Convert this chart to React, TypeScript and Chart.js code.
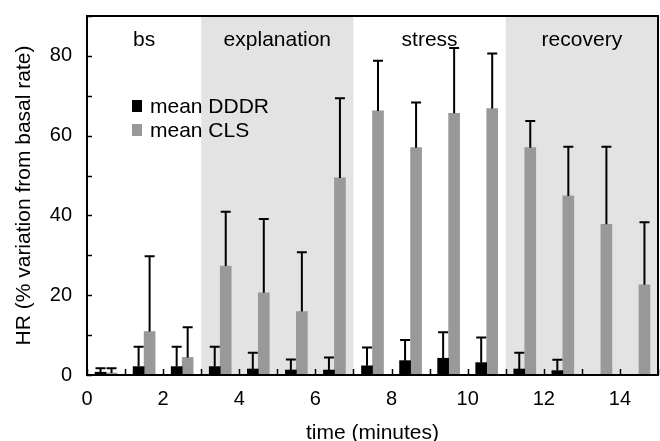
import React, { useEffect, useRef } from "react";
import { Chart, registerables } from "chart.js";

Chart.register(...registerables);

// ---- data ----
const minuteCenters = [0.5, 1.5, 2.5, 3.5, 4.5, 5.5, 6.5, 7.5, 8.5, 9.5, 10.5, 11.5, 12.5, 13.5, 14.5];
const dddrMean = [0.7, 2.1, 2.1, 2.1, 1.5, 1.25, 1.25, 2.3, 3.6, 4.2, 3.1, 1.5, 1.1, 0, 0];
const dddrSD = [1.0, 5.0, 5.0, 5.0, 4.1, 2.65, 3.15, 4.6, 5.2, 6.5, 6.3, 4.1, 2.7, 0, 0];
const clsMean = [0.5, 10.9, 4.4, 27.3, 20.6, 15.9, 49.4, 66.2, 57.0, 65.6, 66.8, 57.0, 44.9, 37.8, 22.6];
const clsSD = [1.2, 18.9, 7.6, 13.6, 18.5, 14.9, 20.0, 12.6, 11.3, 16.4, 13.8, 6.7, 12.3, 19.4, 15.7];

const phaseNames = ["bs", "explanation", "stress", "recovery"];
const phaseStart = [0, 3, 7, 11];
const phaseEnd = [3, 7, 11, 15];
const phaseShaded = [false, true, false, true];
const phaseLabelValue = 84;

const xTickStep = 1;
const yTickStep = 10;

const FONT = "'Liberation Sans', Arial, sans-serif";
const BLACK = "#000000";
const GRAY = "#999999";
const SHADE = "#e3e3e3";

const decorPlugin = {
  id: "decor",
  beforeDatasetsDraw(chart: any) {
    const { ctx, chartArea, scales } = chart;
    const xs = scales.x;
    ctx.save();
    ctx.fillStyle = SHADE;
    for (let i = 0; i < phaseNames.length; i++) {
      if (!phaseShaded[i]) continue;
      const x0 = xs.getPixelForValue(phaseStart[i]);
      const x1 = xs.getPixelForValue(phaseEnd[i]);
      ctx.fillRect(x0, chartArea.top, x1 - x0, chartArea.bottom - chartArea.top);
    }
    ctx.restore();
  },
  afterDatasetsDraw(chart: any) {
    const { ctx, chartArea, scales } = chart;
    const xs = scales.x;
    const ys = scales.y;
    ctx.save();
    // error bars
    const sds = [dddrSD, clsSD];
    const means = [dddrMean, clsMean];
    ctx.strokeStyle = BLACK;
    ctx.lineWidth = 2;
    for (let d = 0; d < 2; d++) {
      const meta = chart.getDatasetMeta(d);
      meta.data.forEach((bar: any, i: number) => {
        const sd = sds[d][i];
        if (!sd) return;
        const yb = ys.getPixelForValue(means[d][i]);
        const yt = ys.getPixelForValue(means[d][i] + sd);
        ctx.beginPath();
        ctx.moveTo(bar.x, yb);
        ctx.lineTo(bar.x, yt);
        ctx.moveTo(bar.x - 5, yt);
        ctx.lineTo(bar.x + 5, yt);
        ctx.stroke();
      });
    }
    // inward ticks
    ctx.lineWidth = 1.5;
    ctx.beginPath();
    xs.ticks.forEach((t: any) => {
      const px = Math.round(xs.getPixelForValue(t.value)) + 0.5;
      ctx.moveTo(px, chartArea.bottom);
      ctx.lineTo(px, chartArea.bottom - 6);
    });
    ys.ticks.forEach((t: any) => {
      const py = Math.round(ys.getPixelForValue(t.value)) + 0.5;
      ctx.moveTo(chartArea.left, py);
      ctx.lineTo(chartArea.left + 5, py);
    });
    ctx.stroke();
    // frame
    ctx.lineWidth = 2;
    ctx.strokeRect(chartArea.left, chartArea.top, chartArea.right - chartArea.left, chartArea.bottom - chartArea.top);
    // phase labels
    ctx.fillStyle = BLACK;
    ctx.font = `21px ${FONT}`;
    ctx.textAlign = "center";
    ctx.textBaseline = "middle";
    for (let i = 0; i < phaseNames.length; i++) {
      const cx = xs.getPixelForValue((phaseStart[i] + phaseEnd[i]) / 2);
      ctx.fillText(phaseNames[i], cx, ys.getPixelForValue(phaseLabelValue));
    }
    // legend
    ctx.textAlign = "left";
    const lx = chartArea.left + 45;
    let ly = chartArea.top + 90;
    chart.data.datasets.forEach((ds: any) => {
      ctx.fillStyle = ds.backgroundColor;
      ctx.fillRect(lx, ly - 6, 10, 12);
      ctx.fillStyle = BLACK;
      ctx.fillText(ds.label, lx + 18, ly + 1);
      ly += 24;
    });
    ctx.restore();
  },
};

export default function App() {
  const ref = useRef<HTMLCanvasElement | null>(null);
  useEffect(() => {
    if (!ref.current) return;
    const chart = new Chart(ref.current, {
      type: "bar",
      data: {
        datasets: [
          {
            label: "mean DDDR",
            data: minuteCenters.map((m, i) => ({ x: m, y: dddrMean[i] })),
            backgroundColor: BLACK,
            barThickness: 11,
          },
          {
            label: "mean CLS",
            data: minuteCenters.map((m, i) => ({ x: m, y: clsMean[i] })),
            backgroundColor: GRAY,
            barThickness: 11,
          },
        ],
      },
      options: {
        animation: false,
        responsive: false,
        layout: { padding: { top: 16, right: 2, left: 0, bottom: 0 } },
        plugins: { legend: { display: false }, tooltip: { enabled: false } },
        scales: {
          x: {
            type: "linear",
            min: 0,
            max: 15,
            offset: false,
            grid: { display: false, drawTicks: false, offset: false },
            border: { display: false },
            ticks: {
              stepSize: xTickStep,
              autoSkip: false,
              maxRotation: 0,
              padding: 12,
              color: BLACK,
              font: { size: 20, family: FONT },
              callback: (v: any) => (Number(v) % 2 === 0 ? String(v) : ""),
            },
            title: {
              display: true,
              text: "time (minutes)",
              color: BLACK,
              font: { size: 21, family: FONT },
              padding: { top: 0, bottom: -5 },
            },
            afterFit: (s: any) => {
              s.height = 66;
              s.paddingLeft = 0;
              s.paddingRight = 0;
            },
          },
          y: {
            min: 0,
            max: 90,
            grid: { display: false, drawTicks: false },
            border: { display: false },
            ticks: {
              stepSize: yTickStep,
              padding: 15,
              color: BLACK,
              font: { size: 20, family: FONT },
              callback: (v: any) => (Number(v) % 20 === 0 ? String(v) : ""),
            },
            title: {
              display: true,
              text: "HR (% variation from basal rate)",
              color: BLACK,
              font: { size: 21, family: FONT },
              padding: { top: 12, bottom: 0 },
            },
            afterFit: (s: any) => {
              s.width = 87;
              s.paddingTop = 0;
              s.paddingBottom = 0;
            },
          },
        },
      },
      plugins: [decorPlugin],
    });
    return () => chart.destroy();
  }, []);
  return (
    <div style={{ position: "fixed", left: 0, top: 0, width: 660, height: 441, background: "#fff" }}>
      <canvas ref={ref} width={660} height={441} style={{ display: "block" }} />
    </div>
  );
}
